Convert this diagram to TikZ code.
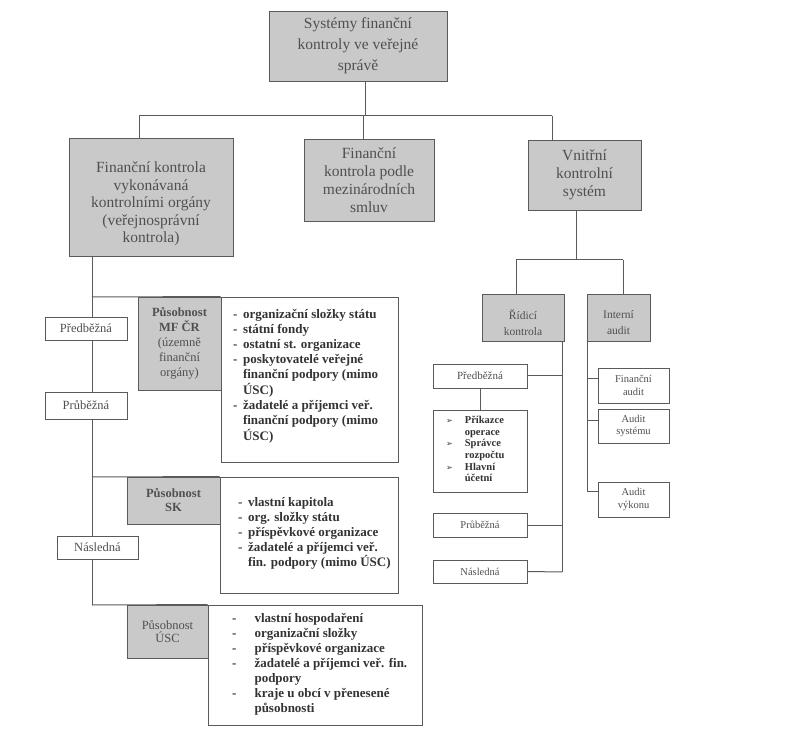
\documentclass[tikz,border=0pt]{standalone}
\usepackage{fontspec}
\setmainfont{Liberation Serif}
\newfontfamily\symfont{DejaVu Sans}
\definecolor{boxgray}{HTML}{C9C9C9}
\definecolor{linegray}{HTML}{5A5A5A}
\definecolor{txtgray}{HTML}{505050}
\definecolor{txtdark}{HTML}{333333}
\begin{document}
\begin{tikzpicture}[x=1pt,y=-1pt,
  box/.style={draw=linegray, line width=0.9pt, inner sep=0pt, text=txtgray, align=center},
  gbox/.style={box, fill=boxgray},
  wbox/.style={box, fill=white},
  txt/.style={inner sep=0pt, text=txtgray, align=center},
  conn/.style={draw=linegray, line width=1pt},
  fbig/.style={font=\fontsize{15.5}{17.5}\selectfont},
  fmid/.style={font=\fontsize{12.5}{15}\selectfont},
  fsm/.style={font=\fontsize{10.5}{12.5}\selectfont},
  fcont/.style={inner sep=0pt, text=txtdark, anchor=base west, font=\fontsize{13}{15}\bfseries\selectfont}
]
\useasboundingbox (0,0) rectangle (812,735);

% ---- coordinates for connector joints
\coordinate (h1L) at (139,116);
\coordinate (h1M) at (365,116);
\coordinate (h1C) at (363,116);
\coordinate (h1R) at (552,116);
\coordinate (h2L) at (516,260);
\coordinate (h2M) at (576,260);
\coordinate (h2R) at (623,260);
\coordinate (rs) at (562,572);
\coordinate (fa) at (587,379);
\coordinate (as) at (587,421);
\coordinate (is) at (587,491);
\coordinate (l1) at (92,297);
\coordinate (l2) at (92,477);
\coordinate (ls) at (92,605);

% ---- nodes (boxes)
\node[gbox, minimum width=178pt, minimum height=70pt, font=\fontsize{15.5}{21}\selectfont] (top) at (358,46)
  {Systémy finanční\\kontroly ve veřejné\\správě};
\node[gbox, minimum width=164pt, minimum height=118pt] (fk) at (151,197) {};
\node[txt, fbig] (fkt) at (151,204)
  {Finanční kontrola\\vykonávaná\\kontrolními orgány\\(veřejnosprávní\\kontrola)};
\node[gbox, minimum width=130pt, minimum height=82pt, font=\fontsize{15.5}{18}\selectfont] (mez) at (369,180)
  {Finanční\\kontrola podle\\mezinárodních\\smluv};
\node[gbox, minimum width=113pt, minimum height=70pt, font=\fontsize{15.5}{18}\selectfont] (vks) at (584.5,175)
  {Vnitřní\\kontrolní\\systém};

\node[gbox, minimum width=82pt, minimum height=47pt] (rid) at (523,317.5) {};
\node[txt, font=\fontsize{11.5}{16}\selectfont] (ridt) at (523,323) {Řídicí\\kontrola};
\node[gbox, minimum width=63pt, minimum height=47pt] (int) at (618.5,317.5) {};
\node[txt, font=\fontsize{11.5}{16}\selectfont] (intt) at (618.5,323) {Interní\\audit};

% connectors (drawn before white boxes)
\draw[conn] (top.south -| h1M) -- (h1M);
\draw[conn] (h1L) -- (h1R);
\draw[conn] (h1L) -- (fk.north -| h1L);
\draw[conn] (h1C) -- (mez.north -| h1C);
\draw[conn] (h1R) -- (vks.north -| h1R);
\draw[conn] (vks.south -| h2M) -- (h2M);
\draw[conn] (h2L) -- (h2R);
\draw[conn] (h2L) -- (rid.north -| h2L);
\draw[conn] (h2R) -- (int.north -| h2R);
\draw[conn] (rid.south -| rs) -- (rs);
\draw[conn] (int.south -| is) -- (is);
\draw[conn] (fk.south -| ls) -- (ls);

% right side boxes
\node[wbox, minimum width=94pt, minimum height=24pt, font=\fontsize{11}{12.5}\selectfont] (rpred) at (480,376) {Předběžná};
\node[wbox, minimum width=94pt, minimum height=82pt] (rbul) at (480,451) {};
\node[wbox, minimum width=94pt, minimum height=24pt, fsm] (rprub) at (480,525) {Průběžná};
\node[wbox, minimum width=94pt, minimum height=23pt, fsm] (rnasl) at (480,571.5) {Následná};
\node[wbox, minimum width=71pt, minimum height=35pt, fsm] (faud) at (633.5,385.5) {Finanční\\audit};
\node[wbox, minimum width=71pt, minimum height=34pt, fsm] (asys) at (633.5,426) {Audit\\systému};
\node[wbox, minimum width=71pt, minimum height=35pt, fsm] (avyk) at (633.5,499.5) {Audit\\výkonu};

\draw[conn] (rpred.east) -- (rpred.east -| rs);
\draw[conn] (rprub.east) -- (rprub.east -| rs);
\draw[conn] (rnasl.east) -- (rs);
\draw[conn] (rpred.south) -- (rbul.north);
\draw[conn] (fa) -- (fa -| faud.west);
\draw[conn] (as) -- (as -| asys.west);
\draw[conn] (is) -- (is -| avyk.west);

\node[inner sep=0pt, text=txtdark, anchor=base west, font=\fontsize{10.5}{11.7}\bfseries\selectfont] (rbult) at (446,423.5)
  {\begin{tabular}[t]{@{}l@{\hspace{12pt}}l@{}}
   {\symfont\fontsize{8}{11.7}\selectfont ➢} & Příkazce\\
   & operace\\
   {\symfont\fontsize{8}{11.7}\selectfont ➢} & Správce\\
   & rozpočtu\\
   {\symfont\fontsize{8}{11.7}\selectfont ➢} & Hlavní\\
   & účetní
  \end{tabular}};

% left side content boxes
\node[wbox, minimum width=177pt, minimum height=165pt] (mfc) at (309.5,379.5) {};
\node[gbox, minimum width=83pt, minimum height=93pt, font=\fontsize{12.5}{15}\selectfont] (mfg) at (179.5,343.5)
  {\textbf{Působnost}\\\textbf{MF ČR}\\(územně\\finanční\\orgány)};
\node[wbox, minimum width=178pt, minimum height=116pt] (skc) at (309,535) {};
\node[gbox, minimum width=93pt, minimum height=47pt, font=\fontsize{12.5}{14}\bfseries\selectfont] (skg) at (173.5,500.5)
  {Působnost\\SK};
\node[wbox, minimum width=214pt, minimum height=120pt] (uscc) at (315,665) {};
\node[gbox, minimum width=81pt, minimum height=53pt, font=\fontsize{12.5}{13.5}\selectfont] (uscg) at (167.5,631.5)
  {Působnost\\ÚSC};

\draw[conn] (l1) -- (mfc.north west);
\draw[conn] (l2) -- (skc.north west);
\draw[conn] (ls) -- (uscc.north west);

% left small boxes over the spine
\node[wbox, minimum width=82pt, minimum height=23pt, fmid] (lpred) at (86,328.5) {Předběžná};
\node[wbox, minimum width=82pt, minimum height=27pt, fmid] (lprub) at (86,405.5) {Průběžná};
\node[wbox, minimum width=81pt, minimum height=23pt, fmid] (lnasl) at (97.5,547.5) {Následná};

% content texts
\node[fcont] (mft) at (233,319)
  {\begin{tabular}[t]{@{}l@{\hspace{5.5pt}}l@{}}
   - & organizační složky státu\\
   - & státní fondy\\
   - & ostatní st. organizace\\
   - & poskytovatelé veřejné\\
   & finanční podpory (mimo\\
   & ÚSC)\\
   - & žadatelé a příjemci veř.\\
   & finanční podpory (mimo\\
   & ÚSC)
  \end{tabular}};
\node[fcont] (skt) at (238,506)
  {\begin{tabular}[t]{@{}l@{\hspace{5.5pt}}l@{}}
   - & vlastní kapitola\\
   - & org. složky státu\\
   - & příspěvkové organizace\\
   - & žadatelé a příjemci veř.\\
   & fin. podpory (mimo ÚSC)
  \end{tabular}};
\node[fcont] (usct) at (232,622)
  {\begin{tabular}[t]{@{}l@{\hspace{18pt}}l@{}}
   - & vlastní hospodaření\\
   - & organizační složky\\
   - & příspěvkové organizace\\
   - & žadatelé a příjemci veř. fin.\\
   & podpory\\
   - & kraje u obcí v přenesené\\
   & působnosti
  \end{tabular}};
\end{tikzpicture}
\end{document}
